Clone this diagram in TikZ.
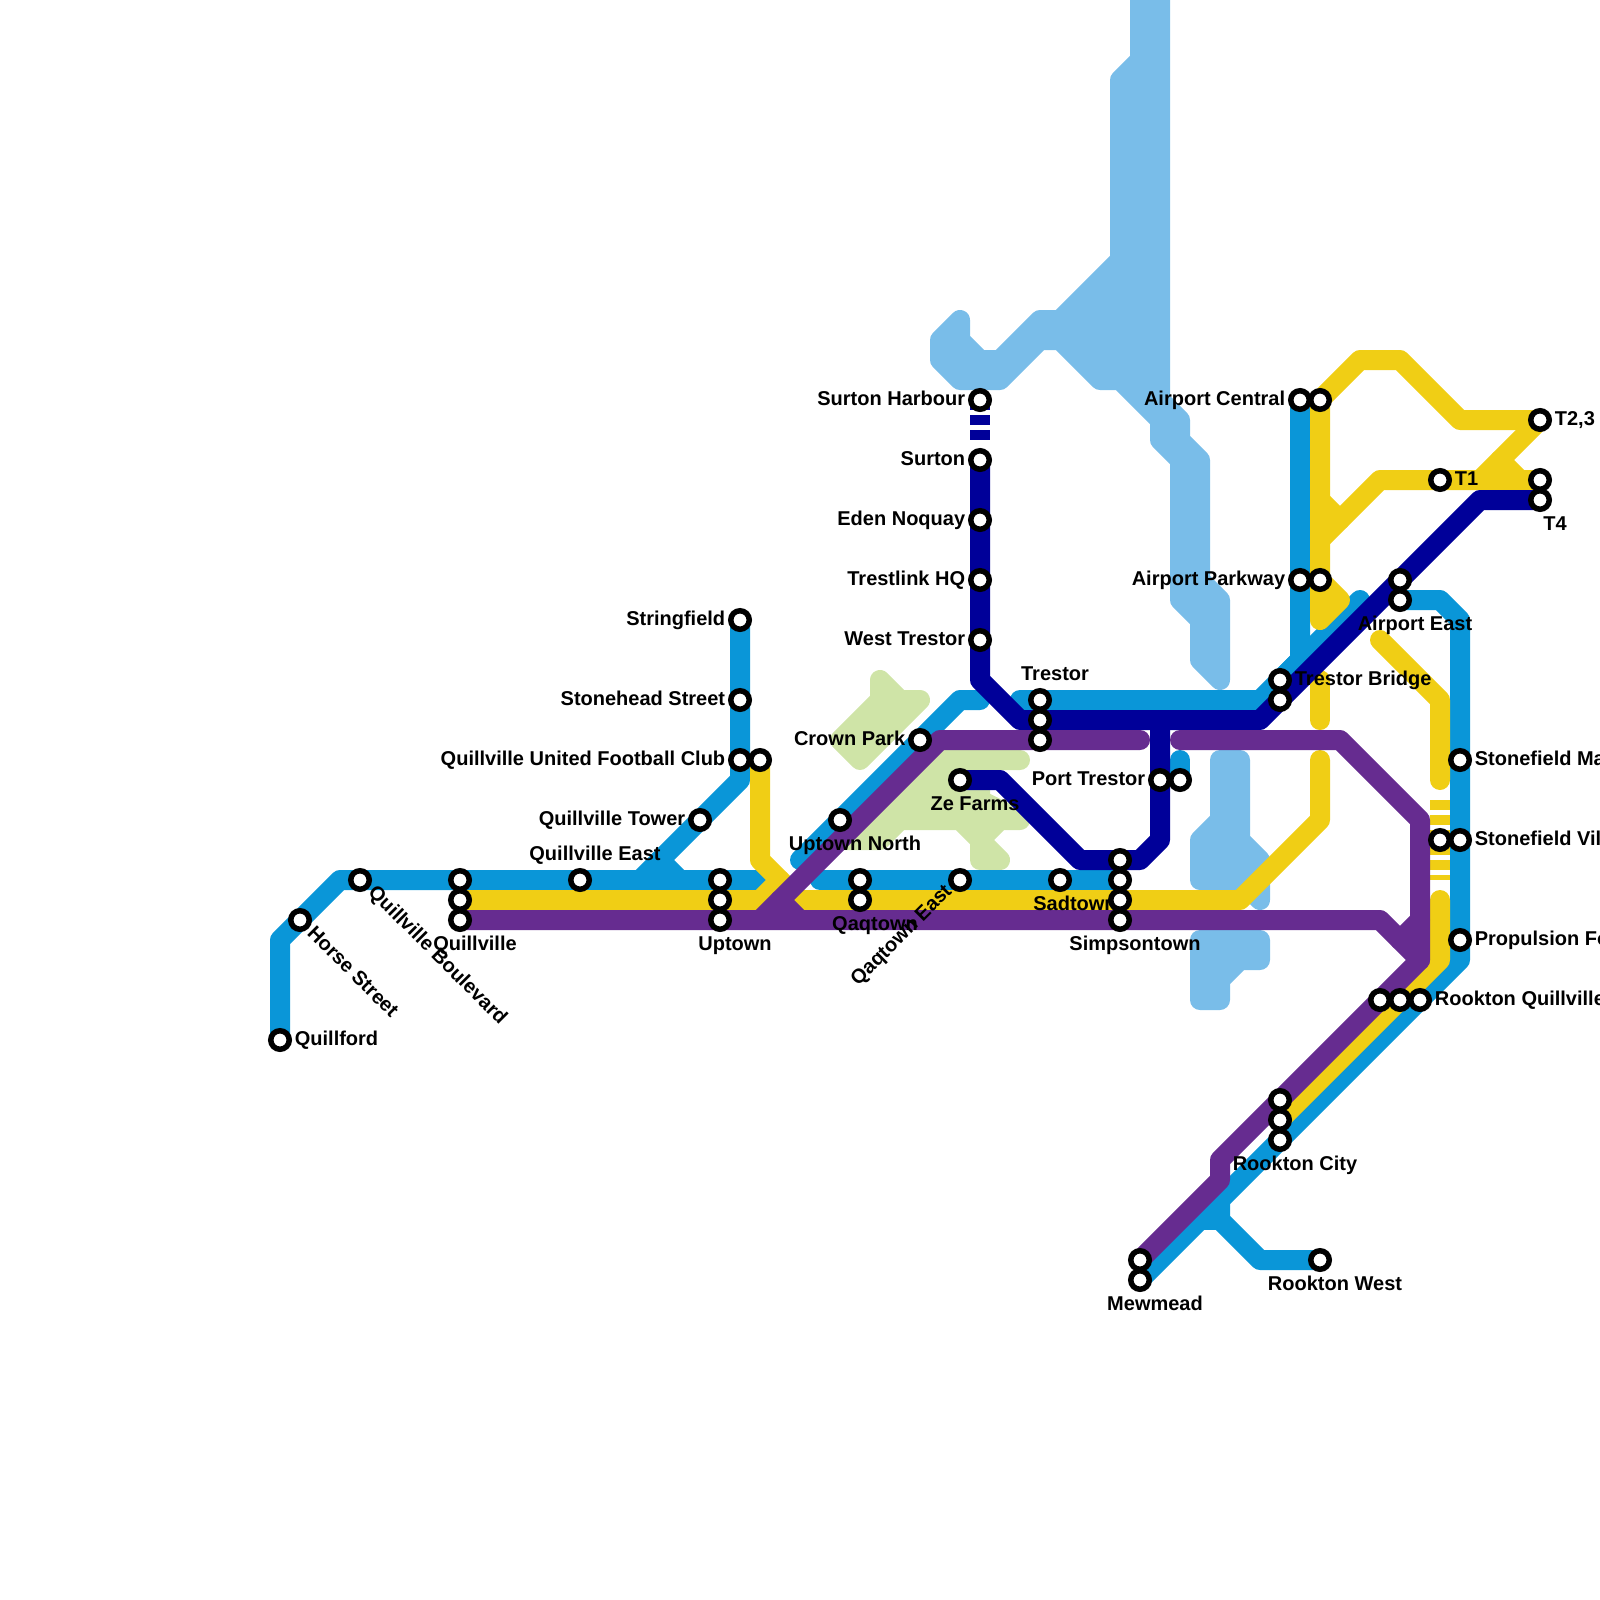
\documentclass[tikz,border=0pt]{standalone}
\usepackage{fontspec}
\setmainfont{Liberation Sans}
\usepackage{xcolor}
\usepackage{tikz}
\usetikzlibrary{positioning}

\definecolor{lineblue}{HTML}{0A96D8}
\definecolor{lineyellow}{HTML}{F0CE15}
\definecolor{linepurple}{HTML}{662C90}
\definecolor{linenavy}{HTML}{000099}
\definecolor{waterblue}{HTML}{79BDE9}
\definecolor{parkgreen}{HTML}{CFE4A7}

\pgfdeclarelayer{tracks}
\pgfdeclarelayer{names}
\pgfsetlayers{tracks,names,main}

\tikzset{
  track/.style={line width=0.4cm, line cap=round, line join=round},
  bluetrack/.style={track, draw=lineblue},
  yellowtrack/.style={track, draw=lineyellow},
  purpletrack/.style={track, draw=linepurple},
  navytrack/.style={track, draw=linenavy},
  brokentrack/.style={line cap=butt, dash pattern=on 0.2cm off 0.1cm},
  terrain/.style={line width=0.4cm, line join=round},
  stn/.style={circle, draw=black, fill=white, line width=0.11cm, minimum size=0.37cm, inner sep=0pt},
  lbl/.style={font=\bfseries\fontsize{11.38}{13}\selectfont, inner sep=0pt, text height=0.28cm, text depth=0.08cm}
}

\begin{document}
\begin{tikzpicture}[x=0.4cm, y=-0.4cm, node distance=0.05cm]
\useasboundingbox (0,0) rectangle (80,80);

% stations
\node[stn] (quillford) at (14,52) {};
\node[stn] (horsest) at (15,46) {};
\node[stn] (quillblvd) at (18,44) {};
\node[stn] (quillvillea) at (23,44) {};
\node[stn] (quillvilleb) at (23,45) {};
\node[stn] (quillvillec) at (23,46) {};
\node[stn] (quilleast) at (29,44) {};
\node[stn] (quilltower) at (35,41) {};
\node[stn] (stringfield) at (37,31) {};
\node[stn] (stonehead) at (37,35) {};
\node[stn] (qufca) at (37,38) {};
\node[stn] (qufcb) at (38,38) {};
\node[stn] (uptowna) at (36,44) {};
\node[stn] (uptownb) at (36,45) {};
\node[stn] (uptownc) at (36,46) {};
\node[stn] (uptownnorth) at (42,41) {};
\node[stn] (crownpark) at (46,37) {};
\node[stn] (qaqtowna) at (43,44) {};
\node[stn] (qaqtownb) at (43,45) {};
\node[stn] (qaqeast) at (48,44) {};
\node[stn] (sadtown) at (53,44) {};
\node[stn] (simpsona) at (56,43) {};
\node[stn] (simpsonb) at (56,44) {};
\node[stn] (simpsonc) at (56,45) {};
\node[stn] (simpsond) at (56,46) {};
\node[stn] (zefarms) at (48,39) {};
\node[stn] (trestora) at (52,35) {};
\node[stn] (trestorb) at (52,36) {};
\node[stn] (trestorc) at (52,37) {};
\node[stn] (porta) at (58,39) {};
\node[stn] (portb) at (59,39) {};
\node[stn] (harbour) at (49,20) {};
\node[stn] (surton) at (49,23) {};
\node[stn] (eden) at (49,26) {};
\node[stn] (trestlink) at (49,29) {};
\node[stn] (westtrestor) at (49,32) {};
\node[stn] (apcentrala) at (65,20) {};
\node[stn] (apcentralb) at (66,20) {};
\node[stn] (apparka) at (65,29) {};
\node[stn] (apparkb) at (66,29) {};
\node[stn] (tbridgea) at (64,34) {};
\node[stn] (tbridgeb) at (64,35) {};
\node[stn] (apeasta) at (70,29) {};
\node[stn] (apeastb) at (70,30) {};
\node[stn] (tone) at (72,24) {};
\node[stn] (ttwo) at (77,21) {};
\node[stn] (tfoura) at (77,24) {};
\node[stn] (tfourb) at (77,25) {};
\node[stn] (stonema) at (73,38) {};
\node[stn] (stonevila) at (72,42) {};
\node[stn] (stonevilb) at (73,42) {};
\node[stn] (propulsion) at (73,47) {};
\node[stn] (rookqa) at (69,50) {};
\node[stn] (rookqb) at (70,50) {};
\node[stn] (rookqc) at (71,50) {};
\node[stn] (rookcitya) at (64,55) {};
\node[stn] (rookcityb) at (64,56) {};
\node[stn] (rookcityc) at (64,57) {};
\node[stn] (mewa) at (57,63) {};
\node[stn] (mewb) at (57,64) {};
\node[stn] (rookwest) at (66,63) {};

\begin{pgfonlayer}{tracks}
% water
\filldraw[terrain, waterblue] (57,-1) -- (58,-1) -- (58,20) -- (59,21) -- (59,22) -- (60,23)
  -- (60,29) -- (61,30) -- (61,34) -- (60,33) -- (60,31) -- (59,30) -- (59,23) -- (58,22)
  -- (58,21) -- (56,19) -- (55,19) -- (53,17) -- (52,17) -- (50,19) -- (48,19) -- (47,18)
  -- (47,17) -- (48,16) -- (48,17) -- (49,18) -- (50,18) -- (52,16) -- (53,16) -- (56,13)
  -- (56,4) -- (57,3) -- cycle;
\filldraw[terrain, waterblue] (61,38) -- (62,38) -- (62,42) -- (63,43) -- (63,45) -- (62,44)
  -- (60,44) -- (60,42) -- (61,41) -- cycle;
\filldraw[terrain, waterblue] (60,47) -- (63,47) -- (63,48) -- (62,48) -- (61,49) -- (61,50)
  -- (60,50) -- cycle;
% parks
\filldraw[terrain, parkgreen] (44,34) -- (45,35) -- (46,35) -- (43,38) -- (42,37) -- (44,35) -- cycle;
\filldraw[terrain, parkgreen] (46,38) -- (51,38) -- (49,38) -- (49,40) -- (51,41) -- (50,41)
  -- (49,42) -- (50,43) -- (49,43) -- (49,42) -- (48,41) -- (45,41) -- (44,42) -- (42,42) -- cycle;

% blue line
\draw[bluetrack] (quillford.center) -- (14,47) -- (17,44) -- (38.5,44);
\draw[bluetrack] (stringfield.center) -- (37,39) -- (32,44);
\draw[bluetrack] (33,43) -- (34,44);
\draw[bluetrack] (40,43) -- (48,35) -- (49,35);
\draw[bluetrack] (41,44) -- (simpsonb.center);
\draw[bluetrack] (51,35) -- (63,35) -- (65,33) -- (apcentrala.center);
\draw[bluetrack] (tbridgea.center) -- (68,30);
\draw[bluetrack] (apeastb.center) -- (72,30) -- (73,31) -- (73,48) -- (mewb.center);
\draw[bluetrack] (61,60) -- (61,61) -- (63,63) -- (rookwest.center);
\draw[bluetrack] (60,61) -- (61,61);
\draw[bluetrack] (portb.center) -- (59,38);

% yellow line
\draw[yellowtrack] (quillvilleb.center) -- (38,45) -- (39,44);
\draw[yellowtrack] (qufcb.center) -- (38,43) -- (40,45) -- (62,45) -- (66,41) -- (66,38);
\draw[yellowtrack] (66,34) -- (66,36);
\draw[yellowtrack] (apcentralb.center) -- (68,18) -- (70,18) -- (73,21) -- (ttwo.center);
\draw[yellowtrack] (apcentralb.center) -- (66,31) -- (67,30) -- (apparkb.center);
\draw[yellowtrack] (66,25) -- (67,26);
\draw[yellowtrack] (66,27) -- (69,24) -- (tfoura.center);
\draw[yellowtrack] (ttwo.center) -- (74,24);
\draw[yellowtrack] (75,23) -- (76,24);
\draw[yellowtrack] (69,32) -- (72,35) -- (72,39);
\draw[yellowtrack, brokentrack] (72,40) -- (72,44);
\draw[yellowtrack] (72,45) -- (72,48) -- (rookcityb.center);

% navy line
\draw[navytrack, brokentrack] (harbour.center) -- (49,22);
\draw[navytrack] (surton.center) -- (49,34) -- (51,36) -- (63,36) -- (74,25) -- (tfourb.center);
\draw[navytrack] (zefarms.center) -- (50,39) -- (54,43) -- (57,43) -- (58,42) -- (58,36);

% purple line
\draw[purpletrack] (quillvillec.center) -- (69,46) -- (71,48) -- (61,58) -- (61,59) -- (mewa.center);
\draw[purpletrack] (59,37) -- (67,37) -- (71,41) -- (71,48);
\draw[purpletrack] (71,46) -- (70,47);
\draw[purpletrack] (38,46) -- (47,37) -- (57,37);
\draw[purpletrack] (39,45) -- (40,46);
\end{pgfonlayer}

\begin{pgfonlayer}{names}
% names beside the stations
\node[lbl, left=of stringfield] (stringfieldname) {Stringfield};
\node[lbl, left=of stonehead] (stoneheadname) {Stonehead Street};
\node[lbl, left=of qufca] (qufcname) {Quillville United Football Club};
\node[lbl, left=of quilltower] (quilltowername) {Quillville Tower};
\node[lbl, left=of crownpark] (crownparkname) {Crown Park};
\node[lbl, left=of harbour] (harbourname) {Surton Harbour};
\node[lbl, left=of surton] (surtonname) {Surton};
\node[lbl, left=of eden] (edenname) {Eden Noquay};
\node[lbl, left=of trestlink] (trestlinkname) {Trestlink HQ};
\node[lbl, left=of westtrestor] (westtrestorname) {West Trestor};
\node[lbl, left=of porta] (portname) {Port Trestor};
\node[lbl, left=of apcentrala] (apcentralname) {Airport Central};
\node[lbl, left=of apparka] (apparkname) {Airport Parkway};
\node[lbl, right=of quillford] (quillfordname) {Quillford};
\node[lbl, right=of tbridgea] (tbridgename) {Trestor Bridge};
\node[lbl, right=of tone] (tonename) {T1};
\node[lbl, right=of ttwo] (ttwoname) {T2,3};
\node[lbl, right=of stonema] (stonemaname) {Stonefield Ma};
\node[lbl, right=of stonevilb] (stonevilname) {Stonefield Vil};
\node[lbl, right=of propulsion] (propulsionname) {Propulsion Fo};
\node[lbl, right=of rookqc] (rookqname) {Rookton Quillville};
% names above and below, off centre
\node[lbl] (quillvillename) at (23.75,47.25) {Quillville};
\node[lbl] (quilleastname) at (29.75,42.75) {Quillville East};
\node[lbl] (uptownname) at (36.75,47.25) {Uptown};
\node[lbl] (uptownnorthname) at (42.75,42.25) {Uptown North};
\node[lbl] (qaqtownname) at (43.75,46.25) {Qaqtown};
\node[lbl] (zefarmsname) at (48.75,40.25) {Ze Farms};
\node[lbl] (trestorname) at (52.75,33.75) {Trestor};
\node[lbl] (sadtownname) at (53.75,45.25) {Sadtown};
\node[lbl] (simpsonname) at (56.75,47.25) {Simpsontown};
\node[lbl] (mewname) at (57.75,65.25) {Mewmead};
\node[lbl] (rookcityname) at (64.75,58.25) {Rookton City};
\node[lbl] (rookwestname) at (66.75,64.25) {Rookton West};
\node[lbl] (apeastname) at (70.75,31.25) {Airport East};
\node[lbl] (tfourname) at (77.75,26.25) {T4};
% slanted names
\node[lbl, rotate=-45] (horsestname) at (17.6,48.65) {Horse Street};
\node[lbl, rotate=-45] (quillblvdname) at (21.85,47.8) {Quillville Boulevard};
\node[lbl, rotate=45] (qaqeastname) at (45.1,46.8) {Qaqtown East};
\end{pgfonlayer}
\end{tikzpicture}
\end{document}
